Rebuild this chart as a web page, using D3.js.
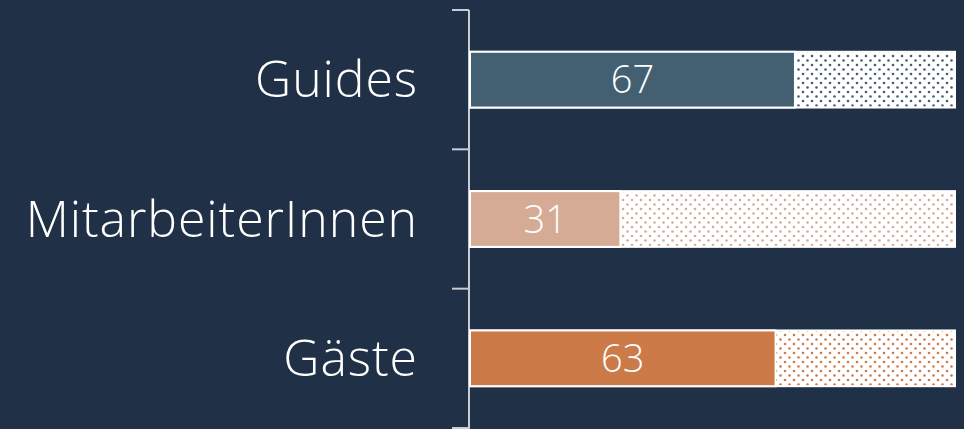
<!DOCTYPE html>
<html>
<head>
<meta charset="utf-8">
<script src="https://cdn.jsdelivr.net/npm/d3@7"></script>
<style>
  html, body { margin: 0; padding: 0; background: #203046; }
  svg { display: block; }
  .cat-label { font-family: "Open Sans", sans-serif; font-weight: 300; fill: #ffffff; }
  .val-label { font-family: "Open Sans", sans-serif; font-weight: 300; fill: #ffffff; }
</style>
</head>
<body>
<svg id="chart" width="964" height="429"></svg>
<script>
// Data
const categories = ['Guides', 'MitarbeiterInnen', 'Gäste'];
const values = [67, 31, 63];
const colors = ['#436073', '#d5ab95', '#cc7a48'];
const maxValue = 100;

const svg = d3.select('#chart');
const width = 964;
const height = 429;

// Margins (axis sits at x = 469)
const margin = { top: 10, right: 9, bottom: 1, left: 469 };

const xScale = d3.scaleLinear()
  .domain([0, maxValue])
  .range([margin.left + 1, width - margin.right]);

const yScale = d3.scaleBand()
  .domain(categories)
  .range([margin.top, height - margin.bottom])
  .paddingInner(0.6)
  .paddingOuter(0.3);

// Dot patterns for the remainder of each bar
const defs = svg.append('defs');
categories.forEach((c, i) => {
  const p = defs.append('pattern')
    .attr('id', `dots-${i}`)
    .attr('patternUnits', 'userSpaceOnUse')
    .attr('width', 9)
    .attr('height', 9);
  p.append('rect').attr('width', 9).attr('height', 9).attr('fill', '#ffffff');
  p.append('circle').attr('cx', 2).attr('cy', 2).attr('r', 1.3).attr('fill', colors[i]);
  p.append('circle').attr('cx', 6.5).attr('cy', 6.5).attr('r', 1.3).attr('fill', colors[i]);
});

// Tick positions at band boundaries
const step = (height - margin.bottom - margin.top) / categories.length;
const boundaries = d3.range(categories.length + 1).map(i => margin.top + i * step);

// Axis line
svg.append('line')
  .attr('x1', margin.left).attr('x2', margin.left)
  .attr('y1', margin.top).attr('y2', height)
  .attr('stroke', '#c9ccd1')
  .attr('stroke-width', 2);

svg.selectAll('.tick-line')
  .data(boundaries)
  .enter().append('line')
  .attr('class', 'tick-line')
  .attr('x1', margin.left - 17).attr('x2', margin.left)
  .attr('y1', d => d).attr('y2', d => d)
  .attr('stroke', '#c9ccd1')
  .attr('stroke-width', 2);

// Bars
const rows = svg.selectAll('.row')
  .data(categories)
  .enter().append('g')
  .attr('class', 'row');

// Full background (patterned) bar
rows.append('rect')
  .attr('x', xScale(0))
  .attr('y', d => yScale(d))
  .attr('width', xScale(maxValue) - xScale(0))
  .attr('height', yScale.bandwidth())
  .attr('fill', (d, i) => `url(#dots-${i})`)
  .attr('stroke', '#ffffff')
  .attr('stroke-width', 2);

// Value bar
rows.append('rect')
  .attr('x', xScale(0))
  .attr('y', d => yScale(d))
  .attr('width', (d, i) => xScale(values[i]) - xScale(0))
  .attr('height', yScale.bandwidth())
  .attr('fill', (d, i) => colors[i])
  .attr('stroke', '#ffffff')
  .attr('stroke-width', 2);

// Value labels
rows.append('text')
  .attr('class', 'val-label')
  .attr('x', (d, i) => (xScale(0) + xScale(values[i])) / 2)
  .attr('y', d => yScale(d) + yScale.bandwidth() / 2)
  .attr('dy', '0.36em')
  .attr('text-anchor', 'middle')
  .style('font-size', '38px')
  .text((d, i) => values[i]);

// Category labels
rows.append('text')
  .attr('class', 'cat-label')
  .attr('x', 418)
  .attr('y', d => yScale(d) + yScale.bandwidth() / 2)
  .attr('dy', '0.35em')
  .attr('text-anchor', 'end')
  .style('font-size', '50px')
  .style('letter-spacing', '0.9px')
  .text(d => d);
</script>
</body>
</html>
